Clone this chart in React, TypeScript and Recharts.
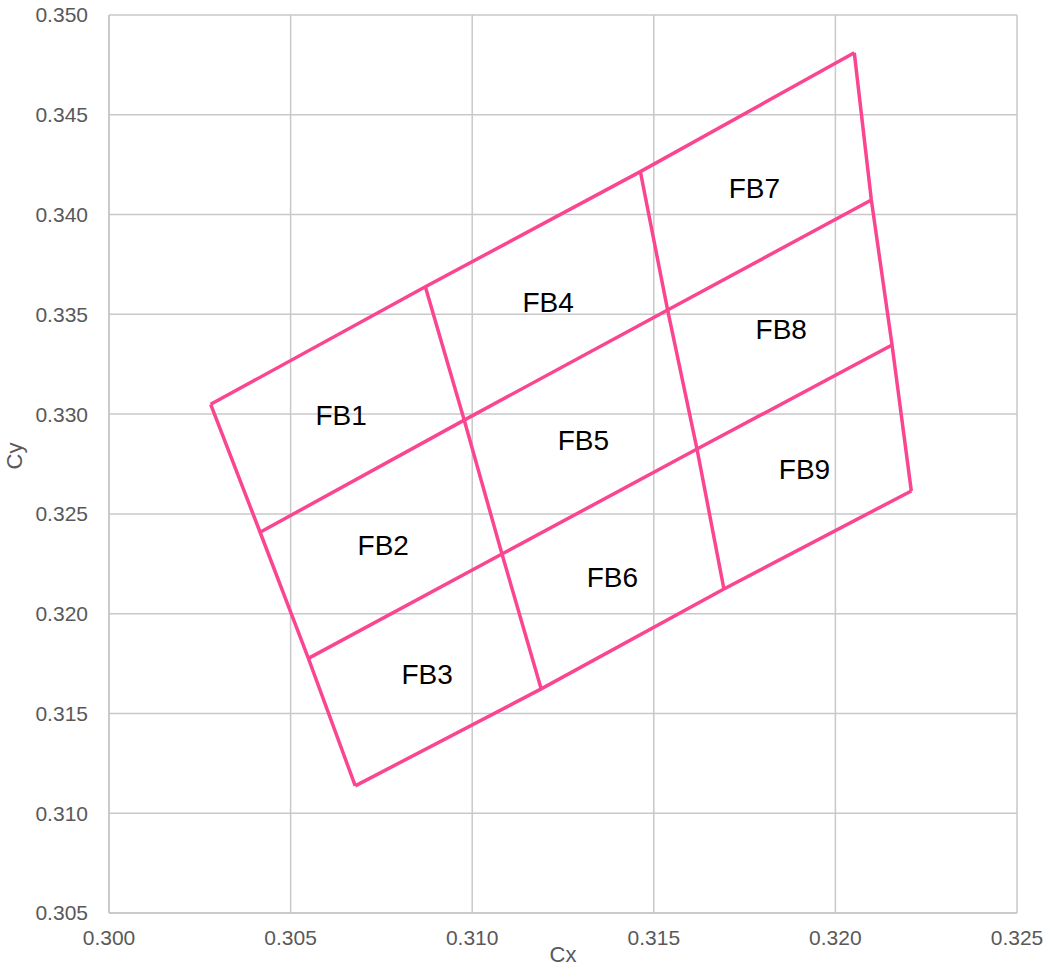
import { ScatterChart, Scatter, XAxis, YAxis, CartesianGrid } from 'recharts';

// grid node coordinates, rows top -> bottom, columns left -> right
const rowCx = [
  [0.3028, 0.30871, 0.31463, 0.32052],
  [0.30416, 0.30978, 0.31538, 0.32099],
  [0.30549, 0.31082, 0.31619, 0.32156],
  [0.30678, 0.3119, 0.31693, 0.32209],
];
const rowCy = [
  [0.33049, 0.33638, 0.34215, 0.34811],
  [0.32408, 0.3297, 0.33522, 0.34073],
  [0.31776, 0.32299, 0.32825, 0.33346],
  [0.31137, 0.31623, 0.32124, 0.32615],
];

const binNames = ['FB1', 'FB2', 'FB3', 'FB4', 'FB5', 'FB6', 'FB7', 'FB8', 'FB9'];
const binCx = [0.30639, 0.30755, 0.30876, 0.31209, 0.31306, 0.31386, 0.31777, 0.31851, 0.31915];
const binCy = [0.32991, 0.32344, 0.31693, 0.33557, 0.3287, 0.32179, 0.34133, 0.33422, 0.3272];

const xTicks = [0.3, 0.305, 0.31, 0.315, 0.32, 0.325];
const yTicks = [0.305, 0.31, 0.315, 0.32, 0.325, 0.33, 0.335, 0.34, 0.345, 0.35];

const PINK = '#fa4691';
const FONT = '"Liberation Sans", Arial, sans-serif';

const rows = rowCx.map((xs, r) => xs.map((x, c) => ({ x, y: rowCy[r][c] })));
const cols = [0, 1, 2, 3].map((c) => rowCx.map((xs, r) => ({ x: xs[c], y: rowCy[r][c] })));
const labels = binNames.map((name, i) => ({ x: binCx[i], y: binCy[i], name }));

const NoDot = () => <g />;

const BinLabel = (props: any) => (
  <text
    x={props.cx}
    y={props.cy}
    textAnchor="middle"
    dominantBaseline="central"
    fontSize={28}
    fontFamily={FONT}
    fill="#000"
  >
    {props.payload.name}
  </text>
);

export default function App() {
  return (
    <div style={{ position: 'absolute', left: 0, top: 0, background: '#fff' }}>
      <ScatterChart width={1047} height={967} margin={{ top: 15, right: 30, left: 0, bottom: 0 }}>
        <CartesianGrid stroke="#c8c8c8" strokeWidth={1.5} />
        <XAxis
          type="number"
          dataKey="x"
          domain={[0.3, 0.325]}
          ticks={xTicks}
          allowDataOverflow
          height={54}
          tickFormatter={(v: number) => v.toFixed(3)}
          tick={{ fill: '#595959', fontSize: 21, fontFamily: FONT }}
          tickLine={false}
          tickSize={6}
          tickMargin={11}
          stroke="#bfbfbf"
          label={{ value: 'Cx', position: 'insideBottom', offset: 5, fill: '#595959', fontSize: 22, fontFamily: FONT }}
        />
        <YAxis
          type="number"
          dataKey="y"
          domain={[0.305, 0.35]}
          ticks={yTicks}
          allowDataOverflow
          width={109}
          tickFormatter={(v: number) => v.toFixed(3)}
          tick={{ fill: '#595959', fontSize: 21, fontFamily: FONT }}
          tickLine={false}
          tickSize={6}
          tickMargin={15}
          stroke="#bfbfbf"
          label={{
            content: (p: any) => {
              const vb = p.viewBox || { x: 0, y: 15, height: 898 };
              const cx = 14;
              const cy = vb.y + vb.height / 2 - 8;
              return (
                <text
                  x={cx}
                  y={cy}
                  transform={`rotate(-90 ${cx} ${cy})`}
                  textAnchor="middle"
                  dominantBaseline="central"
                  fontSize={22}
                  fontFamily={FONT}
                  fill="#595959"
                >
                  Cy
                </text>
              );
            },
          }}
        />
        {rows.map((d, i) => (
          <Scatter
            key={'r' + i}
            data={d}
            fill={PINK}
            line={{ stroke: PINK, strokeWidth: 3.5 }}
            lineType="joint"
            shape={NoDot}
            isAnimationActive={false}
          />
        ))}
        {cols.map((d, i) => (
          <Scatter
            key={'c' + i}
            data={d}
            fill={PINK}
            line={{ stroke: PINK, strokeWidth: 3.5 }}
            lineType="joint"
            shape={NoDot}
            isAnimationActive={false}
          />
        ))}
        <Scatter data={labels} shape={BinLabel} isAnimationActive={false} />
      </ScatterChart>
    </div>
  );
}
